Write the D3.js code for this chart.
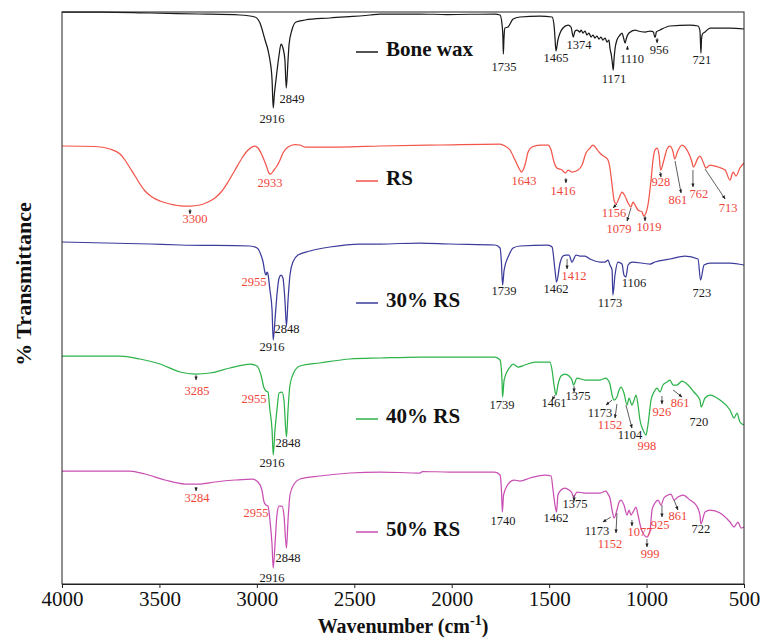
<!DOCTYPE html>
<html>
<head>
<meta charset="utf-8">
<script src="https://cdn.jsdelivr.net/npm/d3@7"></script>
<style>
  body { margin: 0; background: #fff; }
  text { font-family: "Liberation Serif", "Times New Roman", serif; }
</style>
</head>
<body>
<div class="chart"></div>
<script>
// FTIR spectra, stacked (arbitrary transmittance units, offsets included)
var wavenumberTicks = [4000, 3500, 3000, 2500, 2000, 1500, 1000, 500];
var seriesNames = ["Bone wax", "RS", "30% RS", "40% RS", "50% RS"];
var seriesColors = ["#1a1a1a", "#f2554a", "#3c3c9c", "#2db34a", "#c94fb3"];

var boneWax = [[4000,572],[3800,572],[3548,571],[3300,570],[3087,569],[3010,567],[2984,561],[2958,544],[2943,534],[2933,524],[2922,504],[2916,476],[2910,490],[2902,504],[2886,529],[2876,540],[2866,536],[2856,524],[2849,496],[2840,524],[2835,539],[2820,554],[2799,562],[2753,564],[2625,566],[2419,569],[2368,570],[2163,570],[2024,569.5],[1778,570],[1752,569],[1742,560],[1737,545],[1735,530],[1732,545],[1727,556],[1711,557],[1685,565],[1650,567],[1547,568],[1485,567],[1475,559],[1470,546],[1465,533],[1455,544],[1444,551],[1429,556],[1403,559],[1388,557],[1376,547],[1367,553],[1357,554],[1342,552],[1336,554],[1326,551],[1316,553],[1306,549],[1296,551],[1285,547],[1275,549],[1265,546],[1255,548],[1244,545],[1234,547],[1224,544],[1213,546],[1203,542],[1193,544],[1188,536],[1180,528],[1175,520],[1171,514],[1167,525],[1162,535],[1152,544],[1136,549],[1126,551],[1118,546],[1110,541],[1103,546],[1090,551],[1059,554],[1044,553],[1008,552],[980,553],[965,552],[958,547],[955,547],[950,552],[931,554],[880,558],[777,559],[736,558],[726,553],[723,540],[721,531],[718,545],[713,550],[700,552],[674,556],[572,556],[500,555]];

var rs = [[4000,438],[3831,437.5],[3754,435],[3702,430],[3677,424],[3651,416],[3625,408],[3600,400],[3574,393],[3538,387],[3497,383],[3446,380],[3379,378],[3343,378],[3292,379],[3251,382],[3215,386],[3179,393],[3148,402],[3112,414],[3076,426],[3045,434],[3010,438],[2994,436],[2974,429],[2953,419],[2938,411],[2930,410],[2912,414],[2897,418],[2881,424],[2866,431],[2840,437],[2804,439.5],[2779,439],[2753,437],[2573,437],[2368,438],[2060,439],[1752,440],[1727,438],[1701,434],[1675,424],[1650,414],[1643,412],[1624,419],[1608,432],[1588,437],[1547,439],[1506,439],[1490,434],[1475,422],[1460,416],[1434,414],[1416,411],[1403,414],[1383,412],[1352,414],[1331,419],[1311,431],[1290,436],[1275,439],[1260,436],[1244,432],[1229,429],[1213,427],[1198,424],[1188,416],[1177,399],[1167,384],[1157,380],[1141,386],[1126,392],[1111,388],[1095,381],[1080,377],[1070,382],[1059,379],[1044,374],[1023,372],[1015,368],[1003,371],[993,379],[977,404],[967,424],[957,434],[946,436],[936,429],[928,414],[911,424],[895,435],[880,438],[864,432],[856,425],[840,433],[818,439],[787,432],[767,422],[760,417],[736,426],[726,428],[710,422],[695,416],[674,419],[633,417],[597,414],[572,404],[556,412],[541,408],[521,416],[500,421]];

var rs30 = [[4000,342],[3548,340],[3394,339],[3035,338],[2999,336],[2979,329],[2968,322],[2958,311],[2953,309],[2948,312],[2943,310],[2933,294],[2922,274],[2916,244],[2907,264],[2897,289],[2886,306],[2876,309],[2866,306],[2856,284],[2848,258],[2840,284],[2830,309],[2815,322],[2789,329],[2727,333],[2625,337],[2471,340],[2368,340],[2163,341],[2009,340],[1778,339],[1752,336],[1745,322],[1739,299],[1731,314],[1706,329],[1685,336],[1650,338],[1506,339],[1485,337],[1470,314],[1462,302],[1444,321],[1429,328],[1414,329],[1398,329],[1383,322],[1362,329],[1342,328],[1316,328],[1290,325],[1239,322],[1213,322],[1198,324],[1188,319],[1177,314],[1173,289],[1162,309],[1147,322],[1126,320],[1116,309],[1106,307],[1095,319],[1075,322],[982,320],[957,322],[880,325],[803,328],[736,325],[723,304],[705,319],[674,321],[572,321],[500,319]];

var rs40 = [[4000,228],[3702,228],[3600,225],[3497,220],[3394,212],[3317,210],[3240,211],[3138,216],[3035,220],[2999,218],[2979,209],[2963,196],[2953,193],[2943,192],[2933,174],[2922,154],[2916,129],[2907,154],[2897,174],[2886,191],[2871,192],[2861,184],[2848,147],[2840,174],[2830,199],[2809,212],[2779,218],[2676,221],[2522,225],[2368,226],[2163,227],[1778,227],[1752,224],[1742,204],[1739,187],[1731,204],[1701,217],[1685,220],[1660,217],[1624,219],[1573,222],[1496,222],[1485,214],[1475,199],[1465,189],[1455,199],[1439,208],[1419,210],[1398,208],[1383,204],[1375,199],[1357,206],[1316,204],[1239,204],[1208,206],[1198,204],[1188,200],[1177,189],[1167,184],[1152,187],[1141,194],[1131,197],[1116,191],[1100,179],[1090,186],[1075,179],[1064,184],[1054,189],[1044,179],[1034,164],[1018,154],[1003,149],[993,159],[977,184],[962,192],[946,196],[931,192],[916,199],[895,202],[880,204],[864,199],[844,199],[818,203],[787,199],[757,192],[726,184],[720,177],[700,186],[674,189],[623,184],[572,174],[551,166],[536,171],[521,162],[500,159]];

var rs50 = [[4000,113],[3651,113],[3574,110],[3471,104],[3369,100],[3292,100],[3215,102],[3112,104],[3025,105],[2994,102],[2974,94],[2963,82],[2953,79],[2943,78],[2933,64],[2922,39],[2916,16],[2907,39],[2897,69],[2886,78],[2871,78],[2861,69],[2848,36],[2840,64],[2830,89],[2809,100],[2779,105],[2676,108],[2522,111],[2368,112],[2163,111],[2150,112.5],[2009,112],[1778,112],[1752,109],[1745,95],[1740,72],[1734,89],[1701,102],[1680,104],[1650,103],[1598,106],[1521,109],[1490,108],[1480,94],[1470,79],[1462,72],[1455,89],[1439,94],[1419,96],[1398,94],[1383,91],[1375,87],[1357,92],[1316,91],[1239,91],[1208,93],[1198,90],[1188,86],[1177,74],[1167,66],[1152,74],[1141,82],[1131,84],[1116,79],[1100,69],[1090,74],[1080,69],[1064,74],[1054,77],[1044,69],[1029,56],[1013,49],[998,47],[982,54],[972,74],[957,81],[941,84],[926,79],[911,86],[890,89],[875,90],[859,84],[839,87],[813,89],[777,84],[746,79],[726,69],[721,60],[700,72],[674,74],[623,71],[572,62],[551,57],[531,62],[515,56],[500,57]];

// peak labels: text, wavenumber, transmittance, red (1) or black (0)
var peakLabels = [
  ["2916",2922,465,0],["2849",2820,485,0],["1735",1732,517,0],["1465",1465,526,0],["1374",1347,539,0],["1171",1167,505,0],["1110",1075,525,0],["956",936,534,0],["721",716,524,0],
  ["3300",3317,365,1],["2933",2933,401,1],["1643",1629,403,1],["1416",1429,393,1],["1156",1167,371,1],["1079",1141,355,1],["1019",988,357,1],["928",926,402,1],["861",839,384,1],["762",731,390,1],["713",582,376,1],
  ["2955",3015,302,1],["2916",2922,237,0],["2848",2845,255,0],["1739",1732,293,0],["1462",1465,295,0],["1412",1372,308,1],["1173",1188,281,0],["1106",1064,301,0],["723",716,291,0],
  ["3285",3307,193,1],["2955",3015,185,1],["2916",2922,121,0],["2848",2840,141,0],["1739",1742,179,0],["1461",1475,181,0],["1375",1352,188,0],["1173",1239,171,0],["1152",1188,159,1],["1104",1085,149,0],["998",998,138,1],["926",921,172,1],["861",828,181,1],["720",731,162,0],
  ["3284",3307,86,1],["2955",3004,71,1],["2848",2840,26,0],["2916",2922,6,0],["1740",1737,63,0],["1462",1465,66,0],["1375",1367,80,0],["1173",1254,53,0],["1152",1188,40,1],["1077",1034,52,1],["999",982,30,1],["925",931,59,1],["861",839,68,1],["722",721,55,0]
];

// leader arrows: from [wavenumber, T] to [wavenumber, T]
var peakArrows = [
  [1098,534,1098,538],[946,546,946,541],
  [3343,375,3343,370],[1414,406,1414,401],[1152,380,1172,376],[1080,376,1100,363],[1008,368,1008,363],[931,412,926,407],[854,423,823,391],[762,414,762,397],[700,415,597,385],
  [1408,325,1408,315],
  [3312,209,3312,204],[1470,189,1485,184],[1372,198,1372,192],[1177,184,1208,179],[1152,180,1162,166],[1106,179,1075,156],[921,188,921,180],[864,194,818,187],
  [3312,97,3312,93],[1372,89,1372,83],[1183,67,1224,62],[1152,71,1157,51],[1075,64,1075,58],[998,45,998,37],[921,79,921,67],[859,84,839,74]
];

var allSeries = [boneWax, rs, rs30, rs40, rs50];

var svgWidth = 762, svgHeight = 638;
var margin = { top: 12, right: 18, bottom: 54, left: 62 };
var width = svgWidth - margin.left - margin.right;
var height = svgHeight - margin.top - margin.bottom;

var svg = d3.select(".chart").append("svg")
  .attr("width", svgWidth)
  .attr("height", svgHeight);

svg.append("defs").append("marker")
  .attr("id", "arrowHead")
  .attr("viewBox", "0 0 10 10")
  .attr("refX", 9).attr("refY", 5)
  .attr("markerWidth", 5).attr("markerHeight", 5)
  .attr("orient", "auto")
  .append("path").attr("d", "M0,1L10,5L0,9Z").attr("fill", "#222");

var chart = svg.append("g")
  .attr("transform", "translate(" + margin.left + "," + margin.top + ")");

var xScale = d3.scaleLinear().domain([4000, 500]).range([0, width]);
var yScale = d3.scaleLinear().domain([0, 572]).range([height, 0]);

// spectra
var line = d3.line()
  .x(function(d) { return xScale(d[0]); })
  .y(function(d) { return yScale(d[1]); })
  .curve(d3.curveMonotoneX);

chart.selectAll(".spectrum")
  .data(allSeries)
  .enter()
  .append("path")
  .attr("class", "spectrum")
  .attr("d", line)
  .attr("fill", "none")
  .attr("stroke", function(d, i) { return seriesColors[i]; })
  .attr("stroke-width", 1.25);

// frame
chart.append("rect")
  .attr("width", width).attr("height", height)
  .attr("fill", "none").attr("stroke", "#222").attr("stroke-width", 1);

// x axis
var xAxis = d3.axisBottom(xScale).tickValues(wavenumberTicks).tickSize(4).tickPadding(3)
  .tickFormat(d3.format("d"));
var gx = chart.append("g")
  .attr("transform", "translate(0," + height + ")")
  .call(xAxis);
gx.select(".domain").attr("stroke", "#222");
gx.selectAll(".tick line").attr("stroke", "#222");
gx.selectAll(".tick text")
  .attr("font-size", 21)
  .attr("fill", "#111");

// axis titles
var xt = svg.append("text")
  .attr("x", margin.left + width / 2).attr("y", 633)
  .attr("text-anchor", "middle")
  .attr("font-size", 20).attr("font-weight", "bold").attr("fill", "#111");
xt.append("tspan").text("Wavenumber (cm");
xt.append("tspan").attr("dy", -8).attr("font-size", 14).text("-1");
xt.append("tspan").attr("dy", 8).text(")");

svg.append("text")
  .attr("transform", "translate(31,284)rotate(-90)")
  .attr("text-anchor", "middle")
  .attr("font-size", 22).attr("font-weight", "bold").attr("fill", "#111")
  .text("% Transmittance");

// legend
var legendY = [52, 181, 303, 419, 532];
var legend = svg.selectAll(".legend")
  .data(seriesNames)
  .enter().append("g")
  .attr("class", "legend")
  .attr("transform", function(d, i) { return "translate(356," + legendY[i] + ")"; });
legend.append("line")
  .attr("x1", 0).attr("x2", 22)
  .attr("stroke", function(d, i) { return seriesColors[i]; })
  .attr("stroke-width", 1.5);
legend.append("text")
  .attr("x", 30).attr("y", 4)
  .attr("font-size", 21).attr("font-weight", "bold").attr("fill", "#111")
  .text(function(d) { return d; });

// leader arrows
chart.selectAll(".arrow")
  .data(peakArrows)
  .enter().append("line")
  .attr("class", "arrow")
  .attr("x1", function(d) { return xScale(d[0]); })
  .attr("y1", function(d) { return yScale(d[1]); })
  .attr("x2", function(d) { return xScale(d[2]); })
  .attr("y2", function(d) { return yScale(d[3]); })
  .attr("stroke", "#333").attr("stroke-width", 0.8)
  .attr("marker-end", "url(#arrowHead)");

// peak labels
chart.selectAll(".peak")
  .data(peakLabels)
  .enter().append("text")
  .attr("class", "peak")
  .attr("x", function(d) { return xScale(d[1]); })
  .attr("y", function(d) { return yScale(d[2]); })
  .attr("dy", "0.35em")
  .attr("text-anchor", "middle")
  .attr("font-size", 12.5)
  .attr("fill", function(d) { return d[3] ? "#f0463a" : "#1a1a1a"; })
  .text(function(d) { return d[0]; });
</script>
</body>
</html>
